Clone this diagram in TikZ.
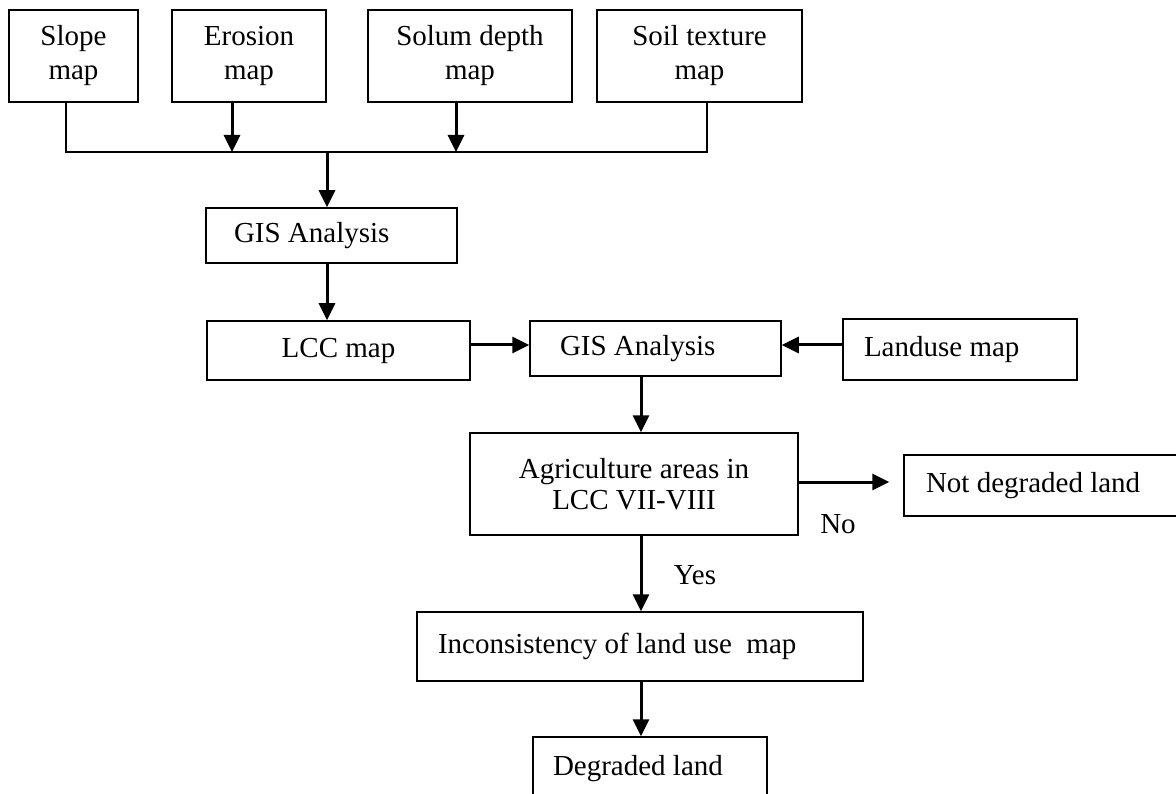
\documentclass[tikz,border=0pt]{standalone}
\usepackage{fontspec}
\setmainfont{Liberation Serif}
\usetikzlibrary{arrows.meta}
\begin{document}
\begin{tikzpicture}[x=1pt,y=-1pt,
  box/.style={draw, line width=1.5pt, inner ysep=0pt, font=\fontsize{29}{34}\selectfont},
  cbox/.style={box, align=flush center, inner xsep=0pt},
  lbox/.style 2 args={box, align=flush left, inner xsep=#1, text width=#2},
  arr/.style={line width=3pt, -{Triangle[length=17pt,width=16pt]}},
  bus/.style={line width=1.5pt},
  lbl/.style={font=\fontsize{29}{34}\selectfont, inner sep=0pt}]
\useasboundingbox (0,0) rectangle (1176,794);

\node[cbox, minimum width=129pt, minimum height=92pt] (slope) at (73.5,56) {Slope\\map};
\node[cbox, minimum width=154pt, minimum height=92pt] (erosion) at (249,56) {Erosion\\map};
\node[cbox, minimum width=204pt, minimum height=92pt] (solum) at (470,56) {Solum depth\\map};
\node[cbox, minimum width=205pt, minimum height=92pt] (soil) at (699.5,56) {Soil texture\\map};
\node[lbox={28pt}{195pt}, minimum height=55pt] (gis1) at (331.5,235.5) {GIS Analysis};
\node[cbox, minimum width=263pt, minimum height=59pt] (lcc) at (338.5,350.5) {LCC map};
\node[lbox={30pt}{191pt}, minimum height=55pt] (gis2) at (655.5,348.5) {GIS Analysis};
\node[lbox={21pt}{192pt}, minimum height=61pt] (landuse) at (960,349.5) {Landuse map};
\node[cbox, minimum width=328pt, minimum height=102pt] (agri) at (634,484) {Agriculture areas in\\[-3pt]LCC VII-VIII};
\node[lbox={22pt}{247pt}, minimum height=61pt] (notdeg) at (1049.5,485.5) {Not degraded land};
\node[lbox={21pt}{404pt}, minimum height=69pt] (inc) at (640,646.5) {Inconsistency of land use\ \ map};
\node[lbox={20pt}{194pt}, minimum height=64pt] (deg) at (650,769) {Degraded land};

\node[lbl] (no) at (838,524) {No};
\node[lbl] (yes) at (695,575) {Yes};

\coordinate (busL) at (66,152);
\coordinate (busR) at (707,152);
\coordinate (eroJ) at (232,152);
\coordinate (solJ) at (456,152);
\coordinate (midJ) at (327,152);
\coordinate (rowA) at (0,345);
\coordinate (rowC) at (0,482);
\coordinate (colB) at (641,0);

\draw[bus] (slope.south -| busL) -- (busL) -- (busR) -- (soil.south -| busR);
\draw[arr] (erosion.south -| eroJ) -- (eroJ);
\draw[arr] (solum.south -| solJ) -- (solJ);
\draw[arr] (midJ) -- (gis1.north -| midJ);
\draw[arr] (gis1.south -| midJ) -- (lcc.north -| midJ);
\draw[arr] (lcc.east |- rowA) -- (gis2.west |- rowA);
\draw[arr] (landuse.west |- rowA) -- (gis2.east |- rowA);
\draw[arr] (gis2.south -| colB) -- (agri.north -| colB);
\draw[arr, shorten >=14pt] (agri.east |- rowC) -- (notdeg.west |- rowC);
\draw[arr] (agri.south -| colB) -- (inc.north -| colB);
\draw[arr] (inc.south -| colB) -- (deg.north -| colB);
\end{tikzpicture}
\end{document}
